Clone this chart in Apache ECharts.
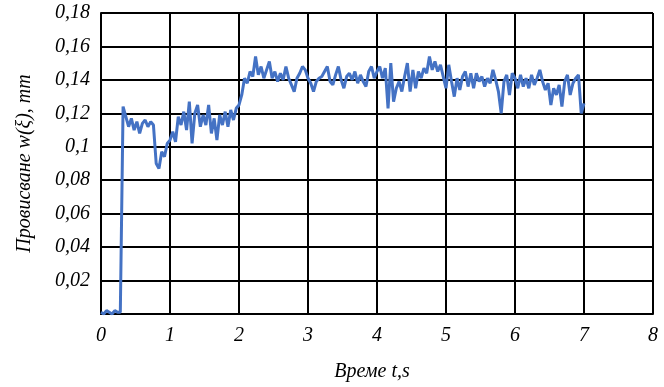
<!DOCTYPE html>
<html>
<head>
<meta charset="utf-8">
<script src="https://cdn.jsdelivr.net/npm/echarts@6/dist/echarts.min.js"></script>
<style>
  html, body { margin: 0; padding: 0; background: #fff; }
  #chart { width: 664px; height: 387px; }
</style>
</head>
<body>
<div id="chart"></div>
<script>
// sampling step of the signal, seconds
const dt = 0.04;

// deflection w, mm, one value every dt from t = 0 to t = 7
const flat = [0.001, 0.000, 0.002, 0.001, 0.000, 0.002, 0.001, 0.001];
const firstStep = [0.124, 0.118, 0.112, 0.117, 0.110, 0.115, 0.108, 0.114, 0.116, 0.112, 0.115, 0.113];
const dip = [0.090, 0.087, 0.097, 0.094, 0.102];
const secondPart = [0.104, 0.109, 0.103, 0.118, 0.113, 0.121, 0.110, 0.127, 0.102, 0.120,
                    0.125, 0.112, 0.119, 0.113, 0.125, 0.108, 0.117, 0.104, 0.119, 0.113,
                    0.121, 0.112, 0.122, 0.116, 0.123];
const rise = [0.125, 0.131, 0.141, 0.138];
const plateauA = [0.145, 0.142, 0.154, 0.143, 0.148, 0.141, 0.146, 0.151, 0.141, 0.145,
                  0.139, 0.144, 0.140, 0.148, 0.141, 0.137, 0.133, 0.141, 0.144, 0.148,
                  0.146, 0.141, 0.138, 0.133, 0.139, 0.141, 0.142, 0.145, 0.148, 0.139,
                  0.137, 0.143, 0.148, 0.140, 0.135, 0.142, 0.144, 0.140, 0.145, 0.138,
                  0.143, 0.139, 0.136, 0.145, 0.148, 0.141];
const plateauB = [0.145, 0.148, 0.141, 0.147, 0.123, 0.150, 0.127, 0.135, 0.139, 0.133,
                  0.142, 0.150, 0.133, 0.146, 0.135, 0.145, 0.141, 0.147, 0.144, 0.154,
                  0.146, 0.151, 0.145, 0.149, 0.142];
const plateauC = [0.135, 0.149, 0.139, 0.130, 0.141, 0.134, 0.142, 0.145, 0.136, 0.144,
                  0.135, 0.144, 0.139, 0.142, 0.136, 0.141, 0.138, 0.146, 0.140, 0.133,
                  0.120, 0.139, 0.143, 0.131, 0.144];
const plateauD = [0.141, 0.135, 0.143, 0.136, 0.141, 0.135, 0.143, 0.137, 0.141, 0.146,
                  0.139, 0.134, 0.138, 0.125, 0.135, 0.131, 0.137, 0.124, 0.139, 0.143,
                  0.131, 0.138, 0.141, 0.143, 0.120, 0.126];

const values = [].concat(flat, firstStep, dip, secondPart, rise, plateauA, plateauB, plateauC, plateauD);

const xTicks = [0, 1, 2, 3, 4, 5, 6, 7, 8];
const yTicks = [0, 0.02, 0.04, 0.06, 0.08, 0.1, 0.12, 0.14, 0.16, 0.18];

var points = [];
for (var i = 0; i < values.length; i++) {
    points.push([+(i * dt).toFixed(2), values[i]]);
}

var chartDom = document.getElementById('chart');
var myChart = echarts.init(chartDom);

const labelFont = {
    fontFamily: 'Liberation Serif',
    fontStyle: 'italic',
    fontSize: 20,
    color: '#000'
};
const gridLine = { show: true, lineStyle: { color: '#000', width: 2 } };

var option = {
    animation: false,
    grid: { left: 101, top: 13, right: 11, bottom: 67, containLabel: false },
    xAxis: {
        type: 'value',
        min: xTicks[0],
        max: xTicks[xTicks.length - 1],
        interval: 1,
        name: 'Време t,s',
        nameLocation: 'middle',
        nameGap: 48,
        nameTextStyle: Object.assign({ padding: [0, 10, 0, 0] }, labelFont),
        axisLine: { show: true, lineStyle: { color: '#000', width: 2 } },
        axisTick: { show: false },
        axisLabel: Object.assign({ margin: 12 }, labelFont),
        splitLine: gridLine
    },
    yAxis: {
        type: 'value',
        min: yTicks[0],
        max: yTicks[yTicks.length - 1],
        interval: 0.02,
        name: 'Провисване w(ξ), mm',
        nameLocation: 'middle',
        nameGap: 66,
        nameTextStyle: labelFont,
        axisLine: { show: true, lineStyle: { color: '#000', width: 2 } },
        axisTick: { show: false },
        axisLabel: Object.assign({
            margin: 11,
            formatter: function (v) {
                return v === 0 ? '' : String(+v.toFixed(2)).replace('.', ',');
            }
        }, labelFont),
        splitLine: gridLine
    },
    series: [{
        type: 'line',
        data: points,
        showSymbol: false,
        lineStyle: { color: '#4472C4', width: 3 },
        z: 3
    }]
};
option && myChart.setOption(option);
</script>
</body>
</html>
